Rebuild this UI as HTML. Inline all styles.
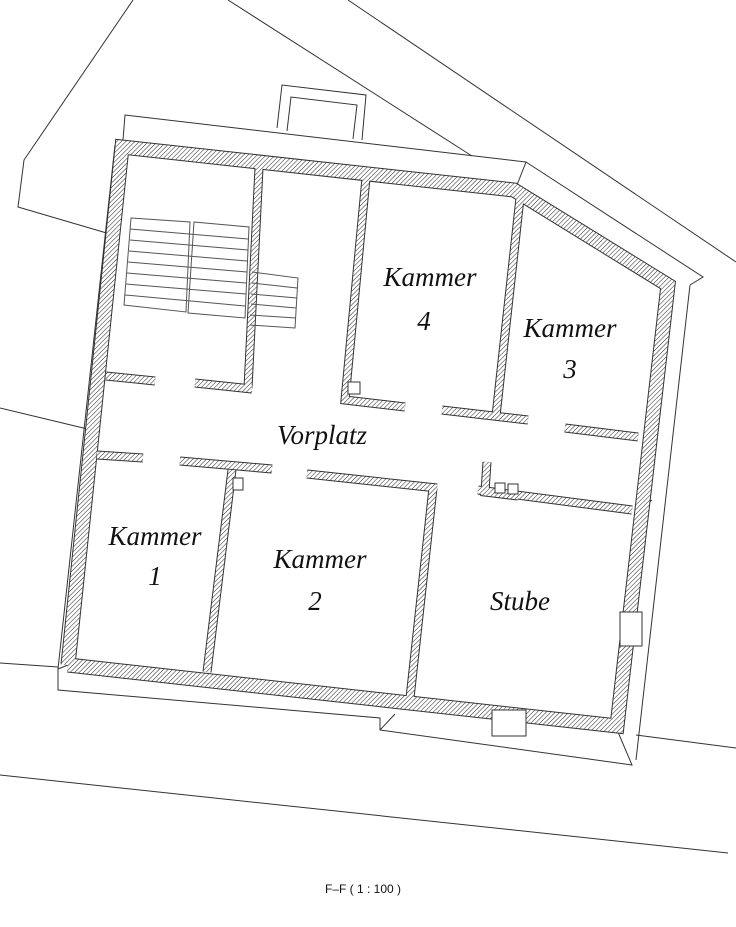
<!DOCTYPE html>
<html><head><style>html,body{margin:0;padding:0;background:#fff}svg{display:block}</style></head><body>
<svg width="736" height="927" viewBox="0 0 736 927" xmlns="http://www.w3.org/2000/svg">
<defs>
<pattern id="h" patternUnits="userSpaceOnUse" width="3.2" height="3.2" patternTransform="rotate(45)">
<rect width="3.2" height="3.2" fill="#fff"/><line x1="0" y1="0" x2="0" y2="3.2" stroke="#222" stroke-width="1"/>
</pattern>
</defs>
<g fill="none" stroke="#333" stroke-width="1">
<polyline points="133,0 24,160 18,207 110,234"/>
<line x1="228" y1="0" x2="472" y2="156"/>
<line x1="348" y1="0" x2="736" y2="262"/>
<line x1="0" y1="408" x2="100" y2="432"/>
<line x1="0" y1="663" x2="58" y2="667"/>
<line x1="0" y1="775" x2="728" y2="853"/>
<line x1="636" y1="735" x2="736" y2="748"/>
<line x1="640" y1="510" x2="652" y2="500"/>
<polyline points="123,140 125,115 526,162 517,185"/>
<polyline points="526,162 703,277 690,285"/>
<line x1="690" y1="285" x2="636" y2="760"/>
<polyline points="277,128 282,85 366,95 362,140"/>
<polyline points="287,131 291,97 357,105 353,139"/>
<polyline points="68,665 58,669 58,690 380,718 380,730 632,765 615,725"/>
<line x1="380" y1="730" x2="395" y2="714"/>
<line x1="115" y1="145" x2="58" y2="669"/>
</g>
<g id="walls" fill="none" stroke-linejoin="miter" stroke-linecap="butt">
<g stroke="#333">
<polyline stroke-width="15" points="68,665 122,147 514,190 668,285 617,726 68,665"/>
<g stroke-width="9">
<polyline points="259,168 248,388"/>
<polyline points="106,376 155,381"/>
<polyline points="195,383 252,389"/>
<polyline points="366,178 345,400 405,407"/>
<polyline points="520,198 496,416"/>
<polyline points="442,410 528,420"/>
<polyline points="565,428 638,437"/>
<polyline points="97,455 143,458"/>
<polyline points="180,461 272,469"/>
<polyline points="307,474 437,488"/>
<polyline points="232,470 207,672"/>
<polyline points="433,488 410,698"/>
<polyline points="478,490 632,510"/>
<polyline points="487,462 485,492 518,496"/>
</g>
</g>
<g stroke="url(#h)">
<polyline stroke-width="13" points="68,665 122,147 514,190 668,285 617,726 68,665"/>
<g stroke-width="7">
<polyline points="259,168 248,388"/>
<polyline points="106,376 155,381"/>
<polyline points="195,383 252,389"/>
<polyline points="366,178 345,400 405,407"/>
<polyline points="520,198 496,416"/>
<polyline points="442,410 528,420"/>
<polyline points="565,428 638,437"/>
<polyline points="97,455 143,458"/>
<polyline points="180,461 272,469"/>
<polyline points="307,474 437,488"/>
<polyline points="232,470 207,672"/>
<polyline points="433,488 410,698"/>
<polyline points="478,490 632,510"/>
<polyline points="487,462 485,492 518,496"/>
</g>
</g>
</g>
<g fill="none" stroke="#333" stroke-width="1">
<rect x="348" y="382" width="12" height="12" fill="#fff"/>
<rect x="233" y="478" width="10" height="12" fill="#fff"/>
<rect x="495" y="483" width="10" height="10" fill="#fff"/>
<rect x="508" y="484" width="10" height="10" fill="#fff"/>
<rect x="620" y="612" width="22" height="34" fill="#fff"/>
<rect x="492" y="710" width="34" height="26" fill="#fff"/>
<g stroke="#555">
<polygon points="131,218 190,222 186,312 124,305" fill="#fff"/>
<polygon points="194,222 249,227 245,318 188,313" fill="#fff"/>
<line x1="130" y1="229" x2="248" y2="239"/><line x1="130" y1="240" x2="248" y2="250"/>
<line x1="129" y1="251" x2="247" y2="261"/><line x1="128" y1="262" x2="247" y2="272"/>
<line x1="127" y1="273" x2="246" y2="283"/><line x1="126" y1="284" x2="246" y2="294"/>
<line x1="125" y1="295" x2="245" y2="306"/>
<polyline points="252,272 298,278 295,328 250,325"/>
<line x1="252" y1="283" x2="297" y2="288"/><line x1="251" y1="294" x2="297" y2="298"/>
<line x1="251" y1="304" x2="296" y2="308"/><line x1="250" y1="315" x2="296" y2="318"/>
</g>
</g>
<g font-family="'Liberation Serif',serif" font-style="italic" font-size="27" fill="#111" text-anchor="middle">
<text x="430" y="286">Kammer</text><text x="424" y="330">4</text>
<text x="570" y="337">Kammer</text><text x="570" y="378">3</text>
<text x="322" y="444">Vorplatz</text>
<text x="155" y="545">Kammer</text><text x="155" y="585">1</text>
<text x="320" y="568">Kammer</text><text x="315" y="610">2</text>
<text x="520" y="610">Stube</text>
</g>
<text x="363" y="893" font-family="'Liberation Sans',sans-serif" font-size="12" fill="#111" text-anchor="middle">F–F ( 1 : 100 )</text>
</svg>
</body></html>
